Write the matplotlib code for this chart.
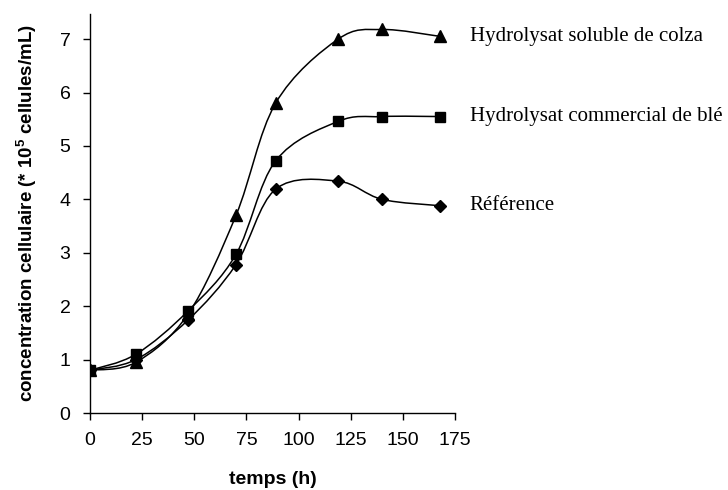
import numpy as np
from matplotlib import pyplot as plt
from matplotlib.path import Path
from matplotlib.patches import PathPatch

temps = [0, 22, 47, 70, 89, 119, 140, 168]
colza = [0.8, 0.95, 1.85, 3.70, 5.80, 7.0, 7.18, 7.05]
ble = [0.8, 1.10, 1.91, 2.97, 4.72, 5.46, 5.55, 5.55]
reference = [0.8, 1.0, 1.74, 2.78, 4.19, 4.34, 4.0, 3.88]

noms = ['Hydrolysat soluble de colza', 'Hydrolysat commercial de blé', 'Référence']
marqueurs = ['^', 's', 'D']
tailles = [8, 7, 6]

plt.rcParams['mathtext.default'] = 'regular'


def courbe_lisse(x, y):
    # bezier par segment, tangentes type Catmull-Rom (comme le lissage Excel)
    p = np.column_stack([x, y]).astype(float)
    n = len(p)
    verts = [p[0]]
    codes = [Path.MOVETO]
    for i in range(n - 1):
        p0 = p[i - 1] if i > 0 else p[i]
        p1 = p[i]
        p2 = p[i + 1]
        p3 = p[i + 2] if i + 2 < n else p[i + 1]
        c1 = p1 + (p2 - p0) / 6.0
        c2 = p2 - (p3 - p1) / 6.0
        verts += [c1, c2, p2]
        codes += [Path.CURVE4] * 3
    return Path(verts, codes)


fig = plt.figure(figsize=(7.28, 4.9), dpi=100)
ax = fig.add_axes([90 / 728, 77 / 490, 365 / 728, 399 / 490])

for serie, m, ms, nom in zip([colza, ble, reference], marqueurs, tailles, noms):
    patch = PathPatch(courbe_lisse(temps, serie), facecolor='none',
                      edgecolor='black', lw=1.1, transform=ax.transData)
    ax.add_patch(patch)
    ax.plot(temps, serie, linestyle='none', marker=m, ms=ms, color='black', zorder=3)
    ax.text(182, serie[-1], nom, va='center', ha='left', fontsize=15,
            family='Liberation Serif', clip_on=False)

ax.set_xlim(0, 175)
ax.set_ylim(0, 7.47)
ax.set_xticks(np.arange(0, 176, 25))
ax.set_yticks(np.arange(0, 8, 1))
for s in ['top', 'right']:
    ax.spines[s].set_visible(False)
ax.spines['left'].set_linewidth(1)
ax.spines['bottom'].set_linewidth(1)
ax.tick_params(direction='out', length=5, width=1, labelsize=14, pad=9)
for lab in ax.get_xticklabels() + ax.get_yticklabels():
    lab.set_family('Liberation Sans')

ax.set_xlabel('temps (h)', fontsize=14, fontweight='bold', family='Liberation Sans')
ax.xaxis.set_label_coords(0.5, -0.145)
ax.set_ylabel('concentration cellulaire (* 10$^{5}$ cellules/mL)', fontsize=13.5,
              fontweight='bold', family='Liberation Sans')
ax.yaxis.set_label_coords(-0.14, 0.5)

fig.savefig('out.png', dpi=100)
